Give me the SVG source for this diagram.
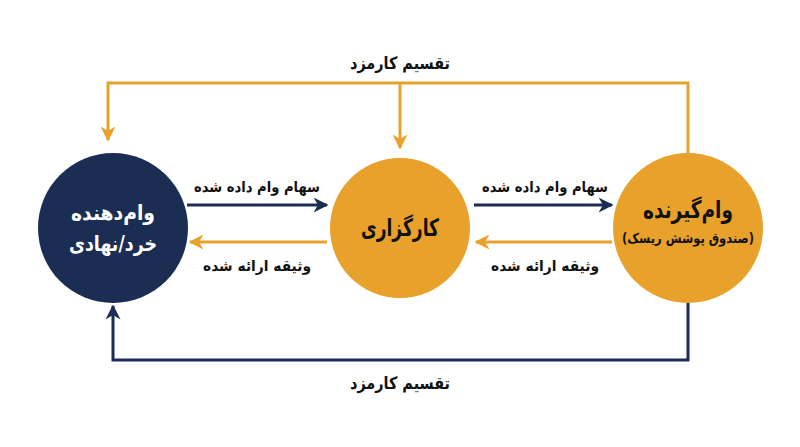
<svg xmlns="http://www.w3.org/2000/svg" width="800" height="447" viewBox="0 0 800 447">
<defs>
<style>
.t{font-family:"DejaVu Sans","Noto Sans",sans-serif;font-weight:bold;text-anchor:middle;direction:rtl}
.lbl{font-size:15px;fill:#111}
.nv{stroke:#1c2d54;stroke-width:3;fill:none}
.or{stroke:#e8a22c;stroke-width:3;fill:none}
</style>
<marker id="an" viewBox="0 0 10 10" refX="9" refY="5" markerWidth="5" markerHeight="5" markerUnits="strokeWidth" orient="auto"><path d="M0,0 L10,5 L0,10 L3,5 z" fill="#1c2d54"/></marker>
<marker id="ao" viewBox="0 0 10 10" refX="9" refY="5" markerWidth="5" markerHeight="5" markerUnits="strokeWidth" orient="auto"><path d="M0,0 L10,5 L0,10 L3,5 z" fill="#e8a22c"/></marker>
</defs>
<rect width="800" height="447" fill="#fff"/>
<g id="connectors">
<polyline class="or" points="688,155 688,83 108,83 108,140" marker-end="url(#ao)"/>
<line class="or" x1="400" y1="83" x2="400" y2="148" marker-end="url(#ao)"/>
<polyline class="nv" points="688,303 688,360 113,360 113,306" marker-end="url(#an)"/>
<line class="nv" x1="187" y1="205" x2="327" y2="205" marker-end="url(#an)"/>
<line class="or" x1="327" y1="242" x2="190" y2="242" marker-end="url(#ao)"/>
<line class="nv" x1="474" y1="205" x2="612" y2="205" marker-end="url(#an)"/>
<line class="or" x1="612" y1="242" x2="476" y2="242" marker-end="url(#ao)"/>
<text class="t" x="400" y="69" font-size="17" fill="#111" textLength="100" lengthAdjust="spacingAndGlyphs">تقسیم کارمزد</text>
<text class="t" x="400" y="389" font-size="17" fill="#111" textLength="100" lengthAdjust="spacingAndGlyphs">تقسیم کارمزد</text>
<text class="t lbl" x="257" y="192" textLength="126" lengthAdjust="spacingAndGlyphs">سهام وام داده شده</text>
<text class="t lbl" x="257" y="271" textLength="108" lengthAdjust="spacingAndGlyphs">وثیقه ارائه شده</text>
<text class="t lbl" x="545" y="192" textLength="126" lengthAdjust="spacingAndGlyphs">سهام وام داده شده</text>
<text class="t lbl" x="545" y="271" textLength="108" lengthAdjust="spacingAndGlyphs">وثیقه ارائه شده</text>
</g>
<g id="lender">
<circle cx="113" cy="228" r="75" fill="#1c2d54"/>
<text class="t" x="113" y="220" font-size="21" fill="#fff" textLength="84" lengthAdjust="spacingAndGlyphs">وام&#x200C;دهنده</text>
<text class="t" x="113" y="251" font-size="21" fill="#fff" textLength="88" lengthAdjust="spacingAndGlyphs">خرد/نهادی</text>
</g>
<g id="broker">
<circle cx="400" cy="228" r="70" fill="#e8a22c"/>
<text class="t" x="400" y="236" font-size="24" fill="#111" textLength="78" lengthAdjust="spacingAndGlyphs">کارگزاری</text>
</g>
<g id="borrower">
<circle cx="688" cy="228" r="75" fill="#e8a22c"/>
<text class="t" x="688" y="218" font-size="24" fill="#111" textLength="90" lengthAdjust="spacingAndGlyphs">وام&#x200C;گیرنده</text>
<text class="t" x="688" y="243" font-size="14" fill="#111" textLength="132" lengthAdjust="spacingAndGlyphs">(صندوق پوشش ریسک)</text>
</g>
</svg>
